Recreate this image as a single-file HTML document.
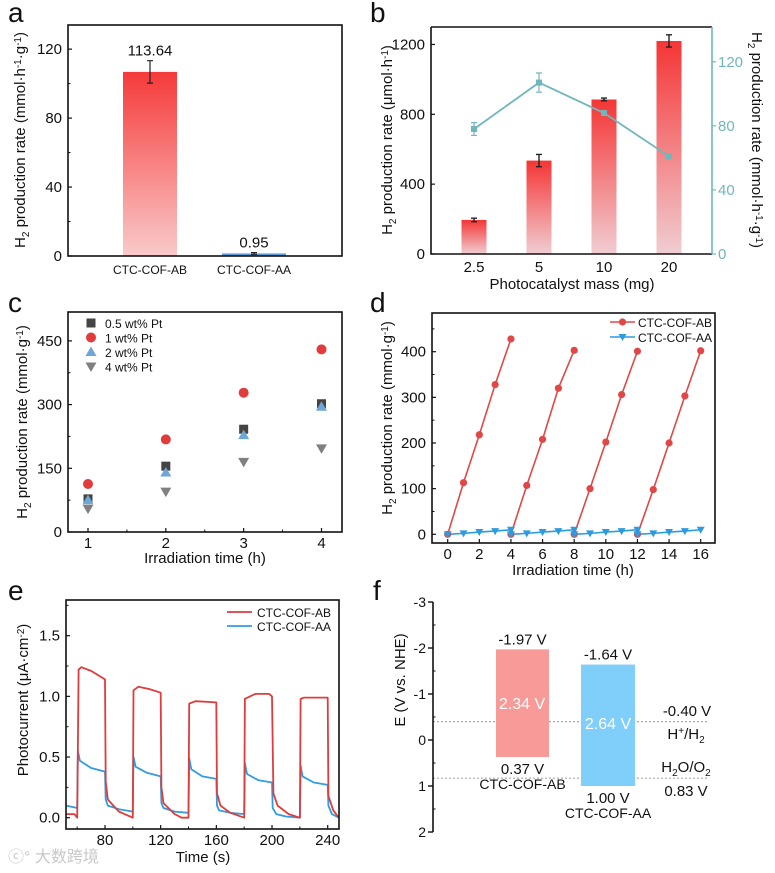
<!DOCTYPE html>
<html><head><meta charset="utf-8">
<style>
html,body{margin:0;padding:0;background:#fff;}
svg{display:block;font-family:"Liberation Sans","Noto Sans CJK SC",sans-serif;}
</style></head>
<body>
<svg id="fig" width="775" height="873" viewBox="0 0 775 873" xmlns="http://www.w3.org/2000/svg">
<defs>
<linearGradient id="gradA" x1="0" y1="0" x2="0" y2="1"><stop offset="0" stop-color="#f63a3a"/><stop offset="1" stop-color="#f9caca"/></linearGradient>
<linearGradient id="gradB" x1="0" y1="0" x2="0" y2="1"><stop offset="0" stop-color="#f53535"/><stop offset="1" stop-color="#f0cdd2"/></linearGradient>
</defs>
</svg>
<script>
// ---------- data ----------
var aCats = ["CTC-COF-AB", "CTC-COF-AA"];
var aVals = [106.8, 1.5];
var aErr = [6.5, 0.5];
var aLabels = ["113.64", "0.95"];
var aTicks = [0, 40, 80, 120];

var bCats = ["2.5", "5", "10", "20"];
var bBars = [195, 535, 885, 1220];
var bBarErr = [10, 35, 8, 35];
var bLine = [78, 107, 88, 61];
var bLineErr = [4, 6, 1, 1];
var bLeftTicks = [0, 400, 800, 1200];
var bRightTicks = [0, 40, 80, 120];

var cTimes = [1, 2, 3, 4];
var c05 = [78, 155, 242, 302];
var c1 = [113, 218, 328, 430];
var c2 = [75, 140, 228, 295];
var c4 = [55, 95, 165, 197];
var cYTicks = [0, 150, 300, 450];

var dTimes = [0,1,2,3,4, 4,5,6,7,8, 8,9,10,11,12, 12,13,14,15,16];
var dAB = [0,113,218,328,428, 0,107,208,320,403, 0,100,202,306,401, 0,98,200,303,402];
var dAA = [0,2,5,7,10, 0,2,5,7,10, 0,2,5,7,10, 0,2,5,7,10];
var dXTicks = [0,2,4,6,8,10,12,14,16];
var dYTicks = [0,100,200,300,400];

var eABt = [52,58,60,61,63,70,80,80.5,82,90,100,100.5,104,112,120,120.5,122,130,135,140,140.5,145,160,160.5,163,170,180,180.5,188,198,200,201,204,212,220,220.5,223,240,240.5,244,248];
var eABv = [0.03,0.03,0.0,1.22,1.24,1.21,1.14,0.3,0.15,0.05,0.0,1.05,1.08,1.06,1.03,0.25,0.12,0.03,0.0,0.0,0.94,0.96,0.95,0.2,0.1,0.04,0.0,0.98,1.02,1.02,1.0,0.2,0.1,0.03,0.0,0.98,0.99,0.99,0.18,0.06,0.0];
var eAAt = [52,60,60.5,62,70,80,80.5,82,90,100,100.5,102,110,120,120.5,122,130,140,140.5,142,150,160,160.5,162,170,180,180.5,182,190,200,200.5,203,210,220,220.5,222,230,240,240.5,243,248];
var eAAv = [0.1,0.08,0.55,0.47,0.41,0.38,0.15,0.1,0.07,0.05,0.5,0.42,0.37,0.34,0.12,0.08,0.05,0.04,0.49,0.4,0.34,0.32,0.1,0.06,0.04,0.03,0.45,0.36,0.31,0.29,0.08,0.03,0.01,0.0,0.43,0.34,0.29,0.27,0.1,0.03,0.0];
var eXTicks = [80,120,160,200,240];
var eYTicks = [0.0,0.5,1.0,1.5];

var fNames = ["CTC-COF-AB", "CTC-COF-AA"];
var fCB = [-1.97, -1.64];
var fVB = [0.37, 1.00];
var fGap = ["2.34 V", "2.64 V"];
var fRef = [-0.40, 0.83];
var fTicks = [-3,-2,-1,0,1,2];

// ---------- helpers ----------
var svg = document.getElementById('fig');
var NS = "http://www.w3.org/2000/svg";
function mk(tag, attrs, parent) {
  var e = document.createElementNS(NS, tag);
  for (var k in attrs) e.setAttribute(k, attrs[k]);
  (parent || svg).appendChild(e);
  return e;
}
function txt(x, y, s, size, anchor, parent, fill) {
  var t = mk('text', {x: x, y: y, 'font-size': size, 'text-anchor': anchor || 'middle', fill: fill || '#111'}, parent);
  t.textContent = s;
  return t;
}
function lin(d0, d1, r0, r1) { return function (v) { return r0 + (v - d0) * (r1 - r0) / (d1 - d0); }; }
function box(x0, y0, x1, y1, name, parent) {
  var r = mk('rect', {x: x0, y: y0, width: x1 - x0, height: y1 - y0, fill: 'none', stroke: '#111', 'stroke-width': 1.6}, parent);
  
  
}
// parts: [text, dy, small]
function addParts(t, parts, bigSize) {
  parts.forEach(function (p) {
    var a = {'font-size': p[2] ? 10 : bigSize};
    if (p[1]) a.dy = p[1];
    var s = mk('tspan', a, t);
    s.textContent = p[0];
  });
}
function yTitle(x, y, parts, parent, rot) {
  var t = mk('text', {x: 0, y: 0, 'font-size': 15, 'text-anchor': 'middle', fill: '#111', transform: 'translate(' + x + ',' + y + ') rotate(' + (rot || -90) + ')'}, parent);
  addParts(t, parts, 15);
  return t;
}
var H2RATE_G = [['H'], ['2', 4, 1], [' production rate (mmol·h', -4], ['-1', -4, 1], ['·g', 4], ['-1', -4, 1], [')', 4]];
function panelLetter(x, y, s) {
  var t = txt(x, y, s, 28, 'start');
  
  
}
function ytick(x, y, label, g) {
  mk('line', {x1: x, x2: x + 4, y1: y, y2: y, stroke: '#111', 'stroke-width': 1.2}, g);
  txt(x - 6, y + 5, label, 15, 'end', g);
}

// ================= Panel a =================
(function () {
  var g = mk('g', {});
  
  
  panelLetter(8, 22, 'a');
  var X0 = 68, X1 = 342, Y0 = 25, Y1 = 256;
  var y = lin(0, 134, Y1, Y0);
  var cx = [150, 254];
  var w = [54, 64];
  var fills = ['url(#gradA)', '#5a9ee0'];
  aVals.forEach(function (v, i) {
    var r = mk('rect', {x: cx[i] - w[i] / 2, y: y(v), width: w[i], height: Y1 - y(v), fill: fills[i]}, g);
    
    
    var eb = mk('path', {d: 'M' + cx[i] + ' ' + y(v + aErr[i]) + 'V' + y(v - aErr[i]) + 'M' + (cx[i] - 3) + ' ' + y(v + aErr[i]) + 'h6M' + (cx[i] - 3) + ' ' + y(v - aErr[i]) + 'h6', stroke: '#222', 'stroke-width': 1.2, fill: 'none'}, g);
    
    
    var lb = txt(cx[i], y(v + aErr[i]) - 5, aLabels[i], 15, 'middle', g);
    
    
    var xl = txt(cx[i], 274, aCats[i], 12, 'middle', g);
    
    
  });
  box(X0, Y0, X1, Y1, 'plot-frame', g);
  aTicks.forEach(function (t) { ytick(X0, y(t), String(t), g); });
  [20, 60, 100].forEach(function (t) { mk('line', {x1: X0, x2: X0 + 2.5, y1: y(t), y2: y(t), stroke: '#111'}, g); });
  var yt = yTitle(25, 140, H2RATE_G, g);
  
  
})();

// ================= Panel b =================
(function () {
  var g = mk('g', {});
  
  
  panelLetter(370, 22, 'b');
  var X0 = 431, X1 = 712, Y0 = 27, Y1 = 254;
  var y = lin(0, 1300, Y1, Y0);
  var yr = lin(0, 141.7, Y1, Y0);
  var xs = [474, 539, 604, 669];
  bBars.forEach(function (v, i) {
    var r = mk('rect', {x: xs[i] - 12.5, y: y(v), width: 25, height: Y1 - y(v), fill: 'url(#gradB)'}, g);
    
    
    var e = bBarErr[i];
    var eb = mk('path', {d: 'M' + xs[i] + ' ' + y(v + e) + 'V' + y(v - e) + 'M' + (xs[i] - 3) + ' ' + y(v + e) + 'h6M' + (xs[i] - 3) + ' ' + y(v - e) + 'h6', stroke: '#222', 'stroke-width': 1.4, fill: 'none'}, g);
    
    
    var xl = txt(xs[i], 272, bCats[i], 15, 'middle', g);
    
    
  });
  var d = bLine.map(function (v, i) { return (i ? 'L' : 'M') + xs[i] + ' ' + yr(v); }).join('');
  var pl = mk('path', {d: d, fill: 'none', stroke: '#6fb7bd', 'stroke-width': 1.8}, g);
  
  
  bLine.forEach(function (v, i) {
    var e = bLineErr[i];
    var eb = mk('path', {d: 'M' + xs[i] + ' ' + yr(v + e) + 'V' + yr(v - e) + 'M' + (xs[i] - 3) + ' ' + yr(v + e) + 'h6M' + (xs[i] - 3) + ' ' + yr(v - e) + 'h6', stroke: '#6fb7bd', 'stroke-width': 1.2, fill: 'none'}, g);
    
    
    var m = mk('rect', {x: xs[i] - 3, y: yr(v) - 3, width: 6, height: 6, fill: '#6fb7bd'}, g);
    
    
  });
  mk('path', {d: 'M' + X0 + ' ' + Y0 + 'H' + X1 + 'M' + X0 + ' ' + Y0 + 'V' + Y1 + 'H' + X1, stroke: '#111', 'stroke-width': 1.6, fill: 'none'}, g);
  mk('line', {x1: X1, x2: X1, y1: Y0, y2: Y1, stroke: '#6fb7bd', 'stroke-width': 1.6}, g);
  bLeftTicks.forEach(function (t) { ytick(X0, y(t), String(t), g); });
  bRightTicks.forEach(function (t) {
    mk('line', {x1: X1, x2: X1 + 4, y1: yr(t), y2: yr(t), stroke: '#6fb7bd', 'stroke-width': 1.2}, g);
    txt(X1 + 6, yr(t) + 5, String(t), 15, 'start', g, '#6fb7bd');
  });
  var xt = txt(572, 289, 'Photocatalyst mass (mg)', 15, 'middle', g);
  
  
  var yt = yTitle(392, 140, [['H'], ['2', 4, 1], [' production rate (μmol·h', -4], ['-1', -4, 1], [')', 4]], g);
  
  
  var yt2 = yTitle(752, 140, H2RATE_G, g, 90);
  
  
})();

// ================= Panel c =================
(function () {
  var g = mk('g', {});
  
  
  panelLetter(8, 312, 'c');
  var X0 = 68, X1 = 342, Y0 = 312, Y1 = 532;
  var x = lin(1, 4, 88, 321.5);
  var y = lin(0, 518, Y1, Y0);
  function marker(kind, px, py, name) {
    var m;
    if (kind === 0) m = mk('rect', {x: px - 4.5, y: py - 4.5, width: 9, height: 9, fill: '#444'}, g);
    else if (kind === 1) m = mk('circle', {cx: px, cy: py, r: 5, fill: '#e23b3b'}, g);
    else if (kind === 2) m = mk('path', {d: 'M' + px + ' ' + (py - 5.5) + 'L' + (px + 5.5) + ' ' + (py + 4) + 'L' + (px - 5.5) + ' ' + (py + 4) + 'Z', fill: '#6ea6d6'}, g);
    else m = mk('path', {d: 'M' + px + ' ' + (py + 5.5) + 'L' + (px + 5.5) + ' ' + (py - 4) + 'L' + (px - 5.5) + ' ' + (py - 4) + 'Z', fill: '#808080'}, g);
    
    
  }
  var series = [c05, c1, c2, c4];
  var names = ['0.5 wt% Pt', '1 wt% Pt', '2 wt% Pt', '4 wt% Pt'];
  series.forEach(function (s, k) {
    s.forEach(function (v, i) { marker(k, x(cTimes[i]), y(v), 'point-' + names[k].replace(/[ %.]+/g, '-')); });
    marker(k, 91, 323 + k * 14.5, 'legend-marker');
    var lt = txt(105, 328 + k * 14.5, names[k], 12, 'start', g);
    
    
  });
  box(X0, Y0, X1, Y1, 'plot-frame', g);
  cYTicks.forEach(function (t) { ytick(X0, y(t), String(t), g); });
  [75, 225, 375].forEach(function (t) { mk('line', {x1: X0, x2: X0 + 2.5, y1: y(t), y2: y(t), stroke: '#111'}, g); });
  cTimes.forEach(function (t) {
    mk('line', {x1: x(t), x2: x(t), y1: Y1, y2: Y1 - 4, stroke: '#111', 'stroke-width': 1.2}, g);
    txt(x(t), 548, String(t), 15, 'middle', g);
  });
  [1.5, 2.5, 3.5].forEach(function (t) { mk('line', {x1: x(t), x2: x(t), y1: Y1, y2: Y1 - 2.5, stroke: '#111'}, g); });
  var xt = txt(205, 563, 'Irradiation time (h)', 15, 'middle', g);
  
  
  var yt = yTitle(27, 422, [['H'], ['2', 4, 1], [' production rate (mmol·g', -4], ['-1', -4, 1], [')', 4]], g);
  
  
})();

// ================= Panel d =================
(function () {
  var g = mk('g', {});
  
  
  panelLetter(370, 312, 'd');
  var X0 = 432, X1 = 715, Y0 = 313, Y1 = 543;
  var x = lin(0, 16, 447.7, 700.7);
  var y = lin(0, 400, 534.3, 351.7);
  function seg(vals, color, name) {
    for (var s = 0; s < 4; s++) {
      var d = '';
      for (var i = 0; i < 5; i++) { var k = s * 5 + i; d += (i ? 'L' : 'M') + x(dTimes[k]) + ' ' + y(vals[k]); }
      var p = mk('path', {d: d, fill: 'none', stroke: color, 'stroke-width': 1.6}, g);
      
      
    }
  }
  seg(dAB, '#e04848', 'ab');
  seg(dAA, '#2c9ce0', 'aa');
  dTimes.forEach(function (t, k) {
    var c = mk('circle', {cx: x(t), cy: y(dAB[k]), r: 3.6, fill: '#e04848'}, g);
    
    
    var px = x(t), py = y(dAA[k]);
    var tr = mk('path', {d: 'M' + (px - 4) + ' ' + (py - 3) + 'L' + (px + 4) + ' ' + (py - 3) + 'L' + px + ' ' + (py + 4) + 'Z', fill: '#2c9ce0'}, g);
    
    
  });
  mk('line', {x1: 610, x2: 635, y1: 322, y2: 322, stroke: '#e04848', 'stroke-width': 1.6}, g);
  mk('circle', {cx: 622.5, cy: 322, r: 3.6, fill: '#e04848'}, g);
  var l1 = txt(638, 327, 'CTC-COF-AB', 12, 'start', g);
  
  
  mk('line', {x1: 610, x2: 635, y1: 337, y2: 337, stroke: '#2c9ce0', 'stroke-width': 1.6}, g);
  mk('path', {d: 'M618.5 334L626.5 334L622.5 341Z', fill: '#2c9ce0'}, g);
  var l2 = txt(638, 342, 'CTC-COF-AA', 12, 'start', g);
  
  
  box(X0, Y0, X1, Y1, 'plot-frame', g);
  dYTicks.forEach(function (t) { ytick(X0, y(t), String(t), g); });
  [50, 150, 250, 350, 450].forEach(function (t) { mk('line', {x1: X0, x2: X0 + 2.5, y1: y(t), y2: y(t), stroke: '#111'}, g); });
  dXTicks.forEach(function (t) {
    mk('line', {x1: x(t), x2: x(t), y1: Y1, y2: Y1 - 4, stroke: '#111', 'stroke-width': 1.2}, g);
    txt(x(t), 559, String(t), 15, 'middle', g);
  });
  var xt = txt(573, 575, 'Irradiation time (h)', 15, 'middle', g);
  
  
  var yt = yTitle(392, 418, [['H'], ['2', 4, 1], [' production rate (mmol·g', -4], ['-1', -4, 1], [')', 4]], g);
  
  
})();

// ================= Panel e =================
(function () {
  var g = mk('g', {});
  
  
  panelLetter(8, 600, 'e');
  var X0 = 66, X1 = 339, Y0 = 600, Y1 = 829;
  var x = lin(80, 240, 105, 327.7);
  var y = lin(0, 1.5, 817.7, 635.7);
  function curve(ts, vs, color, name) {
    var d = ts.map(function (t, i) { return (i ? 'L' : 'M') + x(t).toFixed(1) + ' ' + y(vs[i]).toFixed(1); }).join('');
    var p = mk('path', {d: d, fill: 'none', stroke: color, 'stroke-width': 1.8, 'stroke-linejoin': 'round'}, g);
    
    
  }
  curve(eAAt, eAAv, '#2f9de0', 'aa-photocurrent-line');
  curve(eABt, eABv, '#e03c3c', 'ab-photocurrent-line');
  mk('line', {x1: 227, x2: 252, y1: 612, y2: 612, stroke: '#e03c3c', 'stroke-width': 1.8}, g);
  var l1 = txt(257, 617, 'CTC-COF-AB', 12, 'start', g);
  
  
  mk('line', {x1: 227, x2: 252, y1: 626, y2: 626, stroke: '#2f9de0', 'stroke-width': 1.8}, g);
  var l2 = txt(257, 631, 'CTC-COF-AA', 12, 'start', g);
  
  
  box(X0, Y0, X1, Y1, 'plot-frame', g);
  eYTicks.forEach(function (t) { ytick(X0, y(t), t.toFixed(1), g); });
  [0.25, 0.75, 1.25, 1.75].forEach(function (t) { mk('line', {x1: X0, x2: X0 + 2.5, y1: y(t), y2: y(t), stroke: '#111'}, g); });
  eXTicks.forEach(function (t) {
    mk('line', {x1: x(t), x2: x(t), y1: Y1, y2: Y1 - 4, stroke: '#111', 'stroke-width': 1.2}, g);
    txt(x(t), 845, String(t), 15, 'middle', g);
  });
  [60, 100, 140, 180, 220].forEach(function (t) { mk('line', {x1: x(t), x2: x(t), y1: Y1, y2: Y1 - 2.5, stroke: '#111'}, g); });
  var xt = txt(203, 862, 'Time (s)', 15, 'middle', g);
  
  
  var yt = yTitle(28, 700, [['Photocurrent (μA·cm'], ['-2', -4, 1], [')', 4]], g);
  
  
  var wm = txt(8, 862, 'ⓒ° 大数跨境', 16, 'start', g, '#c8c8c8');
  
  
})();

// ================= Panel f =================
(function () {
  var g = mk('g', {});
  
  
  panelLetter(373, 600, 'f');
  var AX = 433;
  var y = lin(-3, 2, 602, 832);
  fRef.forEach(function (v) {
    var l = mk('line', {x1: AX, x2: 707, y1: y(v), y2: y(v), stroke: '#aaa', 'stroke-width': 1.2, 'stroke-dasharray': '2,2'}, g);
    
    
  });
  var bx = [[496, 549], [581, 635]];
  var cols = ['#f89a98', '#80cefa'];
  fCB.forEach(function (cb, i) {
    var r = mk('rect', {x: bx[i][0], y: y(cb), width: bx[i][1] - bx[i][0], height: y(fVB[i]) - y(cb), fill: cols[i]}, g);
    
    
    var cx = (bx[i][0] + bx[i][1]) / 2;
    var t1 = txt(cx, y(cb) - 5, cb.toFixed(2) + ' V', 15, 'middle', g);
    
    
    var t2 = txt(cx, y(fVB[i]) + 17, fVB[i].toFixed(2) + ' V', 15, 'middle', g);
    
    
    var t3 = txt(cx, y(fVB[i]) + 32, fNames[i], 14, 'middle', g);
    
    
  });
  var g1 = txt(522, 709, fGap[0], 16, 'middle', g, '#fff');
  
  
  var g2 = txt(608, 729, fGap[1], 16, 'middle', g, '#fff');
  
  
  var r1 = txt(687, 716, fRef[0].toFixed(2) + ' V', 15, 'middle', g);
  
  
  var r2 = mk('text', {x: 686, y: 739, 'font-size': 15, 'text-anchor': 'middle', fill: '#111'}, g);
  
  
  addParts(r2, [['H'], ['+', -5, 1], ['/H', 5], ['2', 4, 1]], 15);
  var r3 = mk('text', {x: 686, y: 772, 'font-size': 15, 'text-anchor': 'middle', fill: '#111'}, g);
  
  
  addParts(r3, [['H'], ['2', 4, 1], ['O/O', -4], ['2', 4, 1]], 15);
  var r4 = txt(686, 796, fRef[1].toFixed(2) + ' V', 15, 'middle', g);
  
  
  var ax = mk('line', {x1: AX, x2: AX, y1: y(-3), y2: y(2), stroke: '#111', 'stroke-width': 1.6}, g);
  
  
  fTicks.forEach(function (t) {
    mk('line', {x1: AX, x2: AX - 5, y1: y(t), y2: y(t), stroke: '#111', 'stroke-width': 1.4}, g);
    txt(AX - 7, y(t) + 5, String(t), 14, 'end', g);
  });
  [-2.5, -1.5, -0.5, 0.5, 1.5].forEach(function (t) { mk('line', {x1: AX, x2: AX + 2.5, y1: y(t), y2: y(t), stroke: '#111'}, g); });
  var yt = yTitle(405, 680, [['E (V vs. NHE)']], g);
  
  
})();
</script>
</body></html>
